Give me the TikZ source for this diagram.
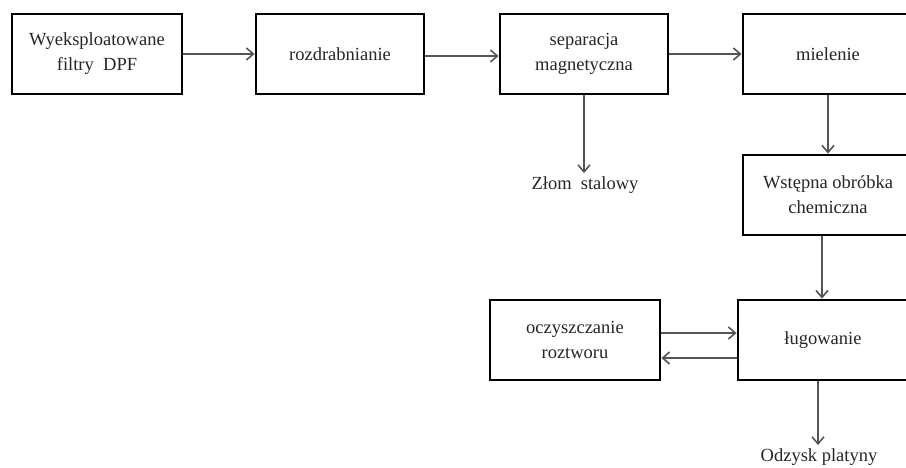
\documentclass[tikz,border=0pt]{standalone}
\usepackage{fontspec}
\setmainfont{Liberation Serif}
\usetikzlibrary{arrows.meta,calc}
\definecolor{inkdark}{HTML}{262626}
\definecolor{flowgray}{HTML}{555555}
\tikzset{
  stage/.style={draw=black, fill=white, line width=2.8pt, minimum width=170pt,
    minimum height=80pt, inner sep=2pt, align=center, text=inkdark,
    font=\fontsize{18.5}{25}\selectfont},
  flow/.style={-{Straight Barb[length=7pt,width=12pt,line width=1.6pt]},
    line width=1.8pt, color=flowgray},
  outlet/.style={text=inkdark, font=\fontsize{18.5}{25}\selectfont},
}
\begin{document}
\begin{tikzpicture}[x=1pt,y=-1pt]
  \useasboundingbox (0,0) rectangle (906,467);
  \clip (0,0) rectangle (906,467);
  % main line
  \node[stage] (filtry) at (97,54) {Wyeksploatowane\\filtry~~DPF};
  \node[stage, minimum width=168pt] (rozdr) at (340,54) {rozdrabnianie};
  \node[stage, minimum width=168pt] (separ) at (584,54) {separacja\\magnetyczna};
  \node[stage] (miel) at (828,54) {mielenie};
  \node[stage] (wstep) at (828,195) {Wstępna obróbka\\chemiczna};
  \node[stage] (lug) at (823,340) {ługowanie};
  \node[stage] (oczy) at (575,340) {oczyszczanie\\roztworu};
  % outlets
  \node[outlet] (zlom) at (585,185) {Złom~~stalowy};
  \node[outlet] (odzysk) at (819,457) {Odzysk platyny};
  % connectors
  \draw[flow] (filtry) -- (rozdr);
  \draw[flow] ([yshift=-2pt]rozdr.east) -- ([yshift=-2pt]rozdr.east -| separ.west);
  \draw[flow] (separ) -- (miel);
  \draw[flow] (separ.south) -- (separ.south |- zlom.north);
  \draw[flow] (miel.south) -- (wstep.north);
  \draw[flow] ([xshift=-6pt]wstep.south) -- ([xshift=-6pt]wstep.south |- lug.north);
  \draw[flow] ([yshift=7pt]oczy.east) -- ([yshift=7pt]oczy.east -| lug.west);
  \draw[flow] ([yshift=-18pt]lug.west) -- ([yshift=-18pt]lug.west -| oczy.east);
  \draw[flow] ([xshift=-5pt]lug.south) -- ([xshift=-5pt]lug.south |- odzysk.north);
\end{tikzpicture}
\end{document}
